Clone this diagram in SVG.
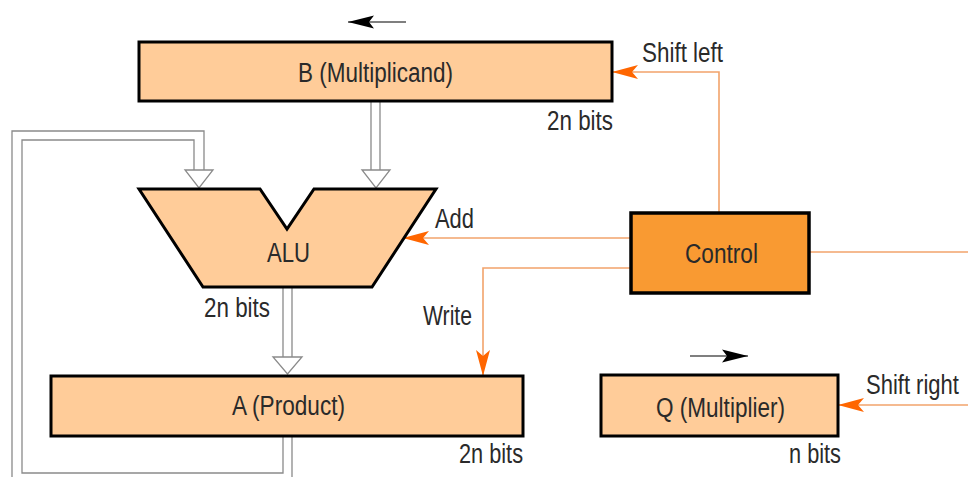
<svg xmlns="http://www.w3.org/2000/svg" width="968" height="477" viewBox="0 0 968 477">
<style>
.box{fill:#FFCC99;stroke:#000;stroke-width:3}
.ctl{fill:#F99A32;stroke:#000;stroke-width:3.5}
.t{font-family:"Liberation Sans",Arial,sans-serif;font-size:27px;fill:#2a2a2a}
.sig{fill:none;stroke:#F2A36B;stroke-width:1.6}
.bus{fill:none;stroke:#8a8a8a;stroke-width:1.3}
.bush{fill:#fff;stroke:#8a8a8a;stroke-width:1.3}
.dir{fill:none;stroke:#000;stroke-width:1.2}
</style>
<defs>
<marker id="oh" viewBox="0 0 26 16" refX="26" refY="8" markerWidth="26" markerHeight="16" markerUnits="userSpaceOnUse" orient="auto">
<path d="M0,1 L26,8 L0,15 L6,8 z" fill="#FF6600"/>
</marker>
<marker id="bh" viewBox="0 0 26 14" refX="26" refY="7" markerWidth="26" markerHeight="14" markerUnits="userSpaceOnUse" orient="auto">
<path d="M0,0.5 L26,7 L0,13.5 L5,7 z" fill="#000"/>
</marker>
</defs>
<g id="connectors">
<path class="sig" d="M719,213 V72 H612" marker-end="url(#oh)"/>
<path class="sig" d="M631,238 H403" marker-end="url(#oh)"/>
<path class="sig" d="M631,268 H483 V376" marker-end="url(#oh)"/>
<path class="sig" d="M809,252 H968"/>
<path class="sig" d="M968,405 H838" marker-end="url(#oh)"/>
<path class="bus" d="M371,101 V170 M380,101 V170"/>
<polygon class="bush" points="362,170 390,170 376,188"/>
<path class="bus" d="M283,287 V357 M292,287 V357"/>
<polygon class="bush" points="273,357 302,357 287.5,374"/>
<path class="bus" d="M283,436 V473 H22 V140 H194 V170"/>
<path class="bus" d="M292,436 V482 H12 V131 H204 V170"/>
<polygon class="bush" points="185,170 213,170 199,188"/>
<path class="dir" d="M406,22 H348" marker-end="url(#bh)"/>
<path class="dir" d="M690,356 H748" marker-end="url(#bh)"/>
</g>
<g id="B">
<rect class="box" x="139" y="42" width="473" height="59"/>
<text class="t" x="298" y="82" textLength="155" lengthAdjust="spacingAndGlyphs">B (Multiplicand)</text>
</g>
<g id="ALU">
<polygon class="box" points="139,189 260,189 287,229 314,189 436,189 372,287 203,287"/>
<text class="t" x="267" y="262" textLength="43" lengthAdjust="spacingAndGlyphs">ALU</text>
</g>
<g id="A">
<rect class="box" x="51" y="376" width="472" height="60"/>
<text class="t" x="232" y="415" textLength="113" lengthAdjust="spacingAndGlyphs">A (Product)</text>
</g>
<g id="Q">
<rect class="box" x="601" y="375" width="237" height="61"/>
<text class="t" x="656" y="417" textLength="129" lengthAdjust="spacingAndGlyphs">Q (Multiplier)</text>
</g>
<g id="Control">
<rect class="ctl" x="631" y="213" width="178" height="80"/>
<text class="t" x="685" y="263" textLength="73" lengthAdjust="spacingAndGlyphs">Control</text>
</g>
<g id="labels">
<text class="t" x="642" y="62" textLength="81" lengthAdjust="spacingAndGlyphs">Shift left</text>
<text class="t" x="547" y="130" textLength="66" lengthAdjust="spacingAndGlyphs">2n bits</text>
<text class="t" x="435" y="228" textLength="39" lengthAdjust="spacingAndGlyphs">Add</text>
<text class="t" x="204" y="317" textLength="66" lengthAdjust="spacingAndGlyphs">2n bits</text>
<text class="t" x="423" y="325" textLength="49" lengthAdjust="spacingAndGlyphs">Write</text>
<text class="t" x="459" y="463" textLength="64" lengthAdjust="spacingAndGlyphs">2n bits</text>
<text class="t" transform="translate(866,394) scale(0.815,1)" x="0" y="0">Shift right</text>
<text class="t" x="789" y="463" textLength="52" lengthAdjust="spacingAndGlyphs">n bits</text>
</g>
</svg>
